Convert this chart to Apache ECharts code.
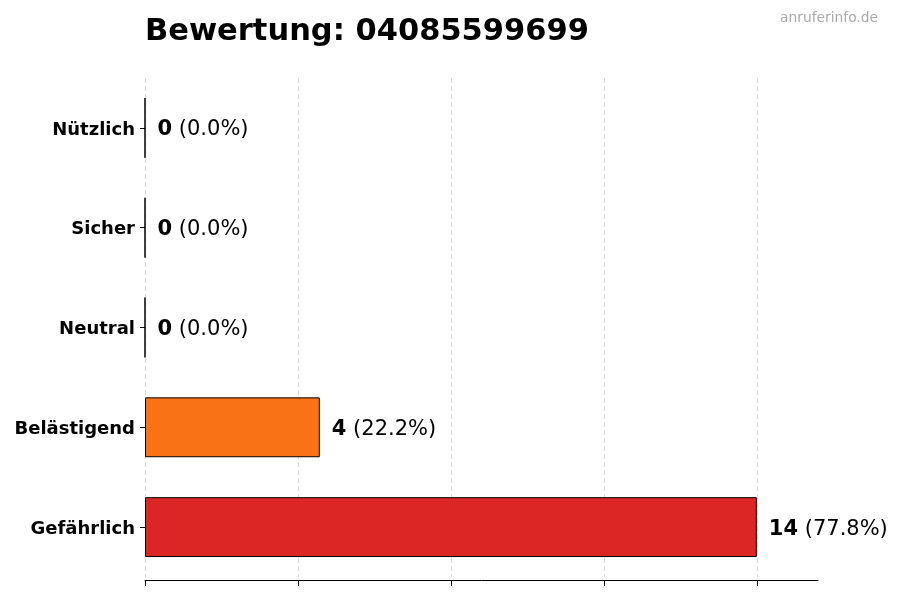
<!DOCTYPE html>
<html>
<head>
<meta charset="utf-8">
<script src="https://cdn.jsdelivr.net/npm/echarts@6/dist/echarts.min.js"></script>
<style>
  html, body { margin: 0; padding: 0; background: #fff; }
  #chart { width: 900px; height: 600px; }
</style>
</head>
<body>
<div id="chart"></div>
<script>
// Kategorien von unten nach oben
var categories = ['Gefährlich', 'Belästigend', 'Neutral', 'Sicher', 'Nützlich'];
var counts = [14, 4, 0, 0, 0];
var percents = ['77.8%', '22.2%', '0.0%', '0.0%', '0.0%'];
var barColors = ['#dc2626', '#f97316', '#9ca3af', '#22c55e', '#3b82f6'];
var xTicks = [0, 3.5, 7, 10.5, 14];

var font = 'DejaVu Sans';
var chart = echarts.init(document.getElementById('chart'));

chart.setOption({
    animation: false,
    title: [{
        text: 'Bewertung: 04085599699',
        left: 140,
        top: 12,
        textStyle: { fontFamily: font, fontSize: 30.5, fontWeight: 'bold', color: '#000' }
    }, {
        text: 'anruferinfo.de',
        right: 17,
        top: 6,
        textStyle: { fontFamily: font, fontSize: 13.8, fontWeight: 'normal', color: '#aaaaaa' }
    }],
    grid: { left: 145, right: 82, top: 78, bottom: 23, containLabel: false },
    xAxis: {
        type: 'value',
        min: 0,
        max: 15.4,
        interval: 3.5,
        offset: 3,
        axisLine: { show: true, lineStyle: { color: '#000', width: 1 } },
        axisTick: { show: true, length: 6, customValues: xTicks, lineStyle: { color: '#000' } },
        axisLabel: { show: false },
        splitLine: {
            show: true,
            lineStyle: { color: '#d0d0d0', type: [5, 3], width: 0.8 }
        }
    },
    yAxis: {
        type: 'category',
        data: categories,
        axisLine: { show: false },
        axisTick: { show: true, alignWithLabel: true, length: 5, lineStyle: { color: '#000' } },
        axisLabel: {
            margin: 10,
            formatter: function (v) { return '{a|' + v + '}'; },
            rich: {
                a: { padding: [4, 0, 0, 0], fontFamily: font, fontSize: 18, fontWeight: 'bold', color: '#000' }
            }
        },
        splitLine: { show: false }
    },
    series: [{
        type: 'bar',
        barWidth: '60%',
        data: counts.map(function (v, i) {
            return {
                value: v,
                itemStyle: { color: barColors[i], borderColor: '#000', borderWidth: 1 }
            };
        }),
        label: {
            show: true,
            position: 'right',
            distance: 12,
            padding: [4, 0, 0, 0],
            formatter: function (p) {
                return '{b|' + p.value + '}{n| (' + percents[p.dataIndex] + ')}';
            },
            rich: {
                b: { fontFamily: font, fontSize: 21, fontWeight: 'bold', color: '#000' },
                n: { fontFamily: font, fontSize: 21, color: '#000' }
            }
        }
    }]
});
</script>
</body>
</html>
